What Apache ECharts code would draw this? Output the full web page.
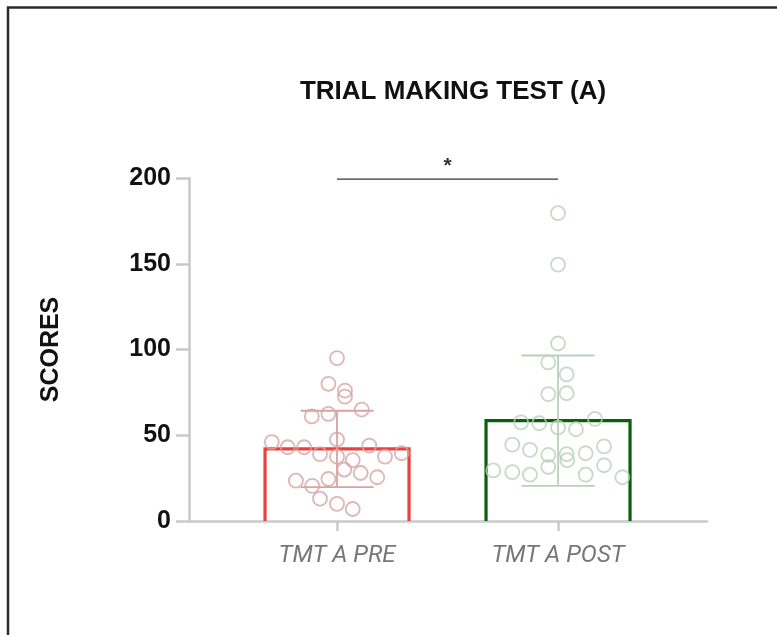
<!DOCTYPE html>
<html>
<head>
<meta charset="utf-8">
<script src="https://cdn.jsdelivr.net/npm/echarts@6/dist/echarts.min.js"></script>
<style>
  html, body { margin: 0; padding: 0; background: #fff; }
  #chart { width: 777px; height: 635px; }
</style>
</head>
<body>
<div id="chart"></div>
<script>
// Groups on the x axis
const categories = ['TMT A PRE', 'TMT A POST'];

// Individual scores per participant
const preScores = [95, 80, 76, 72.5, 61, 62.5, 65, 46, 43, 43, 47.5, 44, 39.5, 39, 37.5, 35.5, 37.5, 30, 28, 25.5, 23.5, 20.5, 24.5, 13, 10, 7];
const postScores = [179.5, 149.5, 103.5, 92.5, 85.5, 74, 74.5, 57.5, 57, 54.5, 53.5, 59.5, 44.5, 41.5, 38.5, 39, 35.5, 39.5, 43.5, 29.5, 28.5, 27, 31.5, 27, 32.5, 25.5];

// Horizontal scatter of each dot around its group centre (category units)
const preJitter = [0, -0.039, 0.036, 0.036, -0.114, -0.039, 0.112, -0.295, -0.223, -0.149, 0, 0.146, 0.293, -0.077, 0, 0.071, 0.217, 0.033, 0.107, 0.182, -0.186, -0.112, -0.039, -0.077, 0, 0.071];
const postJitter = [0, 0, 0, -0.044, 0.039, -0.044, 0.039, -0.167, -0.085, 0, 0.081, 0.167, -0.207, -0.127, -0.044, 0.039, 0.042, 0.125, 0.208, -0.293, -0.207, -0.127, -0.044, 0.125, 0.208, 0.291];

// Group mean and standard deviation
const means = [42, 58.5];
const sds = [22.3, 38];

// Y axis ticks
const yTicks = [0, 50, 100, 150, 200];

// Significance comparison: groups compared, height of the bracket, marker
const sigPair = [0, 1];
const sigLevel = 199.3;
const sigMark = '*';

const barColors = ['#e8403f', '#0b5e0b'];
const dotColors = ['#d8a2a2', '#b9d1b9'];
const axisGray = '#c9c9c9';

const chart = echarts.init(document.getElementById('chart'), null, { renderer: 'canvas' });

const summary = categories.map((c, i) => [i, means[i], sds[i]]);

const option = {
  animation: false,
  backgroundColor: '#fff',
  title: {
    text: 'TRIAL MAKING TEST (A)',
    left: 448,
    top: 74,
    textAlign: 'center',
    textStyle: { fontFamily: 'Liberation Sans, Arial, sans-serif', fontWeight: 'bold', fontSize: 26, color: '#111' }
  },
  graphic: [
    {
      type: 'rect',
      shape: { x: 8, y: 7.5, width: 900, height: 900 },
      style: { fill: null, stroke: '#2c2c2c', lineWidth: 2.5 },
      silent: true
    }
  ],
  grid: { left: 189, right: 70, top: 178, bottom: 114, containLabel: false },
  xAxis: {
    type: 'value',
    min: -0.6697,
    max: 1.674,
    splitLine: { show: false },
    axisLine: { show: true, onZero: false, lineStyle: { color: axisGray, width: 2.5 } },
    axisTick: { show: true, customValues: [0, 1], length: 10, lineStyle: { color: axisGray, width: 2.5 } },
    axisLabel: {
      customValues: [0, 1],
      formatter: v => categories[Math.round(v)],
      margin: 23,
      fontFamily: 'Liberation Sans Narrow, Roboto, sans-serif',
      fontStyle: 'italic',
      fontSize: 24,
      color: '#777'
    }
  },
  yAxis: {
    type: 'value',
    min: yTicks[0],
    max: yTicks[yTicks.length - 1],
    interval: 50,
    name: 'SCORES',
    nameLocation: 'middle',
    nameRotate: 90,
    nameGap: 125,
    nameTextStyle: { fontFamily: 'Liberation Sans, Arial, sans-serif', fontWeight: 'bold', fontSize: 25, color: '#111' },
    splitLine: { show: false },
    axisLine: { show: true, onZero: false, lineStyle: { color: axisGray, width: 2.5 } },
    axisTick: { show: true, length: 13, lineStyle: { color: axisGray, width: 2.5 } },
    axisLabel: {
      margin: 18,
      fontFamily: 'Liberation Sans, Arial, sans-serif',
      fontWeight: 'bold',
      fontSize: 25,
      color: '#111'
    }
  },
  series: [
    {
      // Mean bars, open on the baseline
      type: 'custom',
      clip: false,
      z: 2,
      data: summary,
      renderItem: (params, api) => {
        const i = api.value(0);
        const base = api.coord([i, 0]);
        const top = api.coord([i, api.value(1)]);
        const hw = 72;
        return {
          type: 'polyline',
          shape: { points: [[base[0] - hw, base[1]], [base[0] - hw, top[1]], [base[0] + hw, top[1]], [base[0] + hw, base[1]]] },
          style: { fill: null, stroke: barColors[i], lineWidth: 3.2 }
        };
      }
    },
    {
      // Mean ± SD whiskers
      type: 'custom',
      clip: false,
      z: 3,
      data: summary,
      renderItem: (params, api) => {
        const i = api.value(0);
        const m = api.value(1), s = api.value(2);
        const hi = api.coord([i, m + s]);
        const lo = api.coord([i, m - s]);
        const cw = 36.5;
        const st = { stroke: dotColors[i], lineWidth: 1.8 };
        return {
          type: 'group',
          children: [
            { type: 'line', shape: { x1: hi[0], y1: hi[1], x2: lo[0], y2: lo[1] }, style: st },
            { type: 'line', shape: { x1: hi[0] - cw, y1: hi[1], x2: hi[0] + cw, y2: hi[1] }, style: st },
            { type: 'line', shape: { x1: lo[0] - cw, y1: lo[1], x2: lo[0] + cw, y2: lo[1] }, style: st }
          ]
        };
      }
    },
    {
      name: categories[0],
      type: 'scatter',
      z: 4,
      symbol: 'circle',
      symbolSize: 14,
      itemStyle: { color: 'rgba(255,255,255,0)', borderColor: dotColors[0], borderWidth: 1.8 },
      data: preScores.map((v, k) => [0 + preJitter[k], v])
    },
    {
      name: categories[1],
      type: 'scatter',
      z: 4,
      symbol: 'circle',
      symbolSize: 14,
      itemStyle: { color: 'rgba(255,255,255,0)', borderColor: dotColors[1], borderWidth: 1.8 },
      data: postScores.map((v, k) => [1 + postJitter[k], v])
    },
    {
      // Significance bracket between the two groups
      type: 'custom',
      clip: false,
      z: 5,
      data: [[sigPair[0], sigPair[1], sigLevel]],
      renderItem: (params, api) => {
        const a = api.coord([api.value(0), api.value(2)]);
        const b = api.coord([api.value(1), api.value(2)]);
        return {
          type: 'group',
          children: [
            { type: 'line', shape: { x1: a[0], y1: a[1], x2: b[0], y2: b[1] }, style: { stroke: '#333', lineWidth: 1.3 } },
            {
              type: 'text',
              style: {
                text: sigMark,
                x: (a[0] + b[0]) / 2,
                y: a[1] - 13,
                align: 'center',
                verticalAlign: 'middle',
                font: 'bold 21px "Liberation Sans", Arial, sans-serif',
                fill: '#333'
              }
            }
          ]
        };
      }
    }
  ]
};

chart.setOption(option);
</script>
</body>
</html>
